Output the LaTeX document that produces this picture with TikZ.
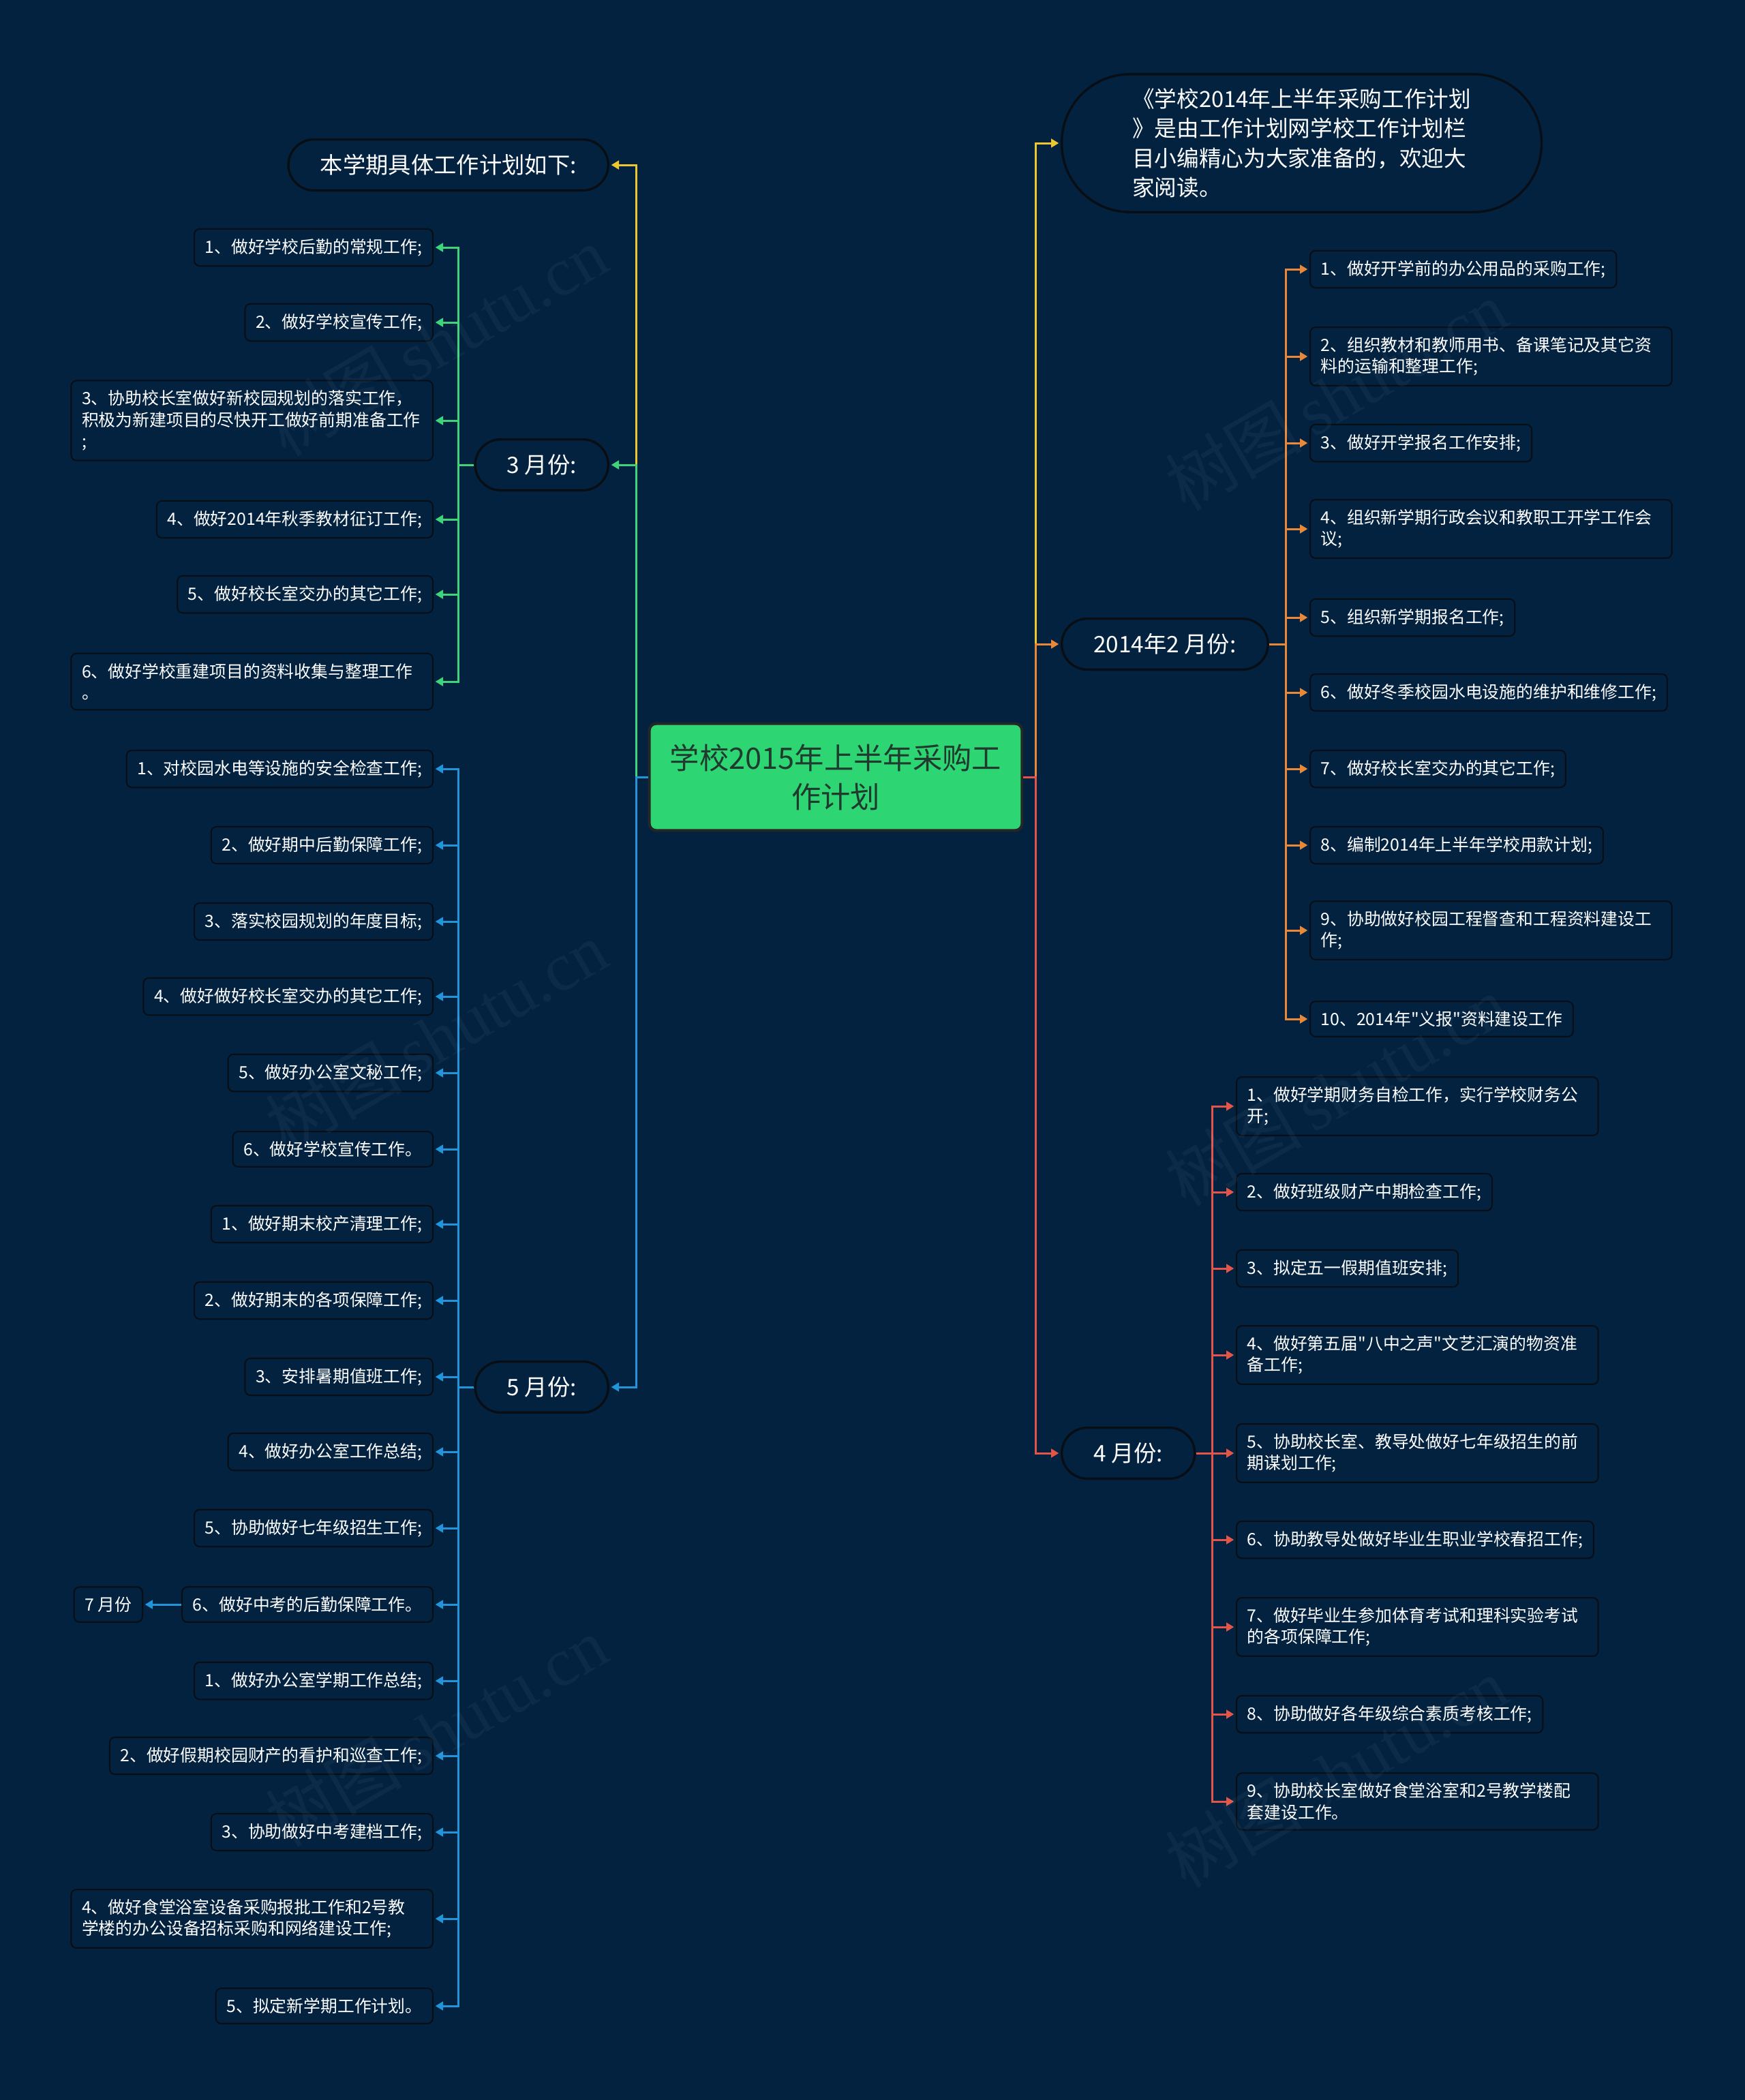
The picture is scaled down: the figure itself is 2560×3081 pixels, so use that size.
\documentclass[tikz,border=0pt]{standalone}
\usepackage{fontspec}
\setmainfont{Noto Sans CJK SC}
\newfontfamily\qf{Noto Sans CJK SC}
\newfontfamily\wmserif{Liberation Serif}
\newcommand\dq{{\qf"}}
\usetikzlibrary{arrows.meta}
\definecolor{bg}{RGB}{2,34,64}
\definecolor{edge}{RGB}{8,14,20}
\definecolor{cyel}{RGB}{238,198,46}
\definecolor{cora}{RGB}{234,136,56}
\definecolor{cred}{RGB}{228,84,72}
\definecolor{cgrn}{RGB}{64,212,122}
\definecolor{cblu}{RGB}{34,148,218}
\definecolor{rootfill}{RGB}{46,213,115}
\definecolor{roottext}{RGB}{32,58,46}
\tikzset{
  leaf/.style={draw=edge, line width=0.6pt, fill=bg, rounded corners=2.4pt, text=white,
    font=\fontsize{7.45}{9.4}\selectfont, inner xsep=4.7pt, inner ysep=4.3pt, align=left},
  leafw/.style={leaf, text width=149.8pt},
  mid/.style={draw=edge, line width=1pt, fill=bg, rounded corners=11.2pt, text=white,
    font=\fontsize{10}{13}\selectfont, minimum height=22.4pt, inner xsep=14pt},
  intro/.style={draw=edge, line width=1pt, fill=bg, rounded corners=30pt, text=white,
    font=\fontsize{9.8}{13}\selectfont, align=left, inner xsep=31pt, minimum height=60.7pt},
  rootbox/.style={draw=black!85, line width=1.2pt, fill=rootfill, rounded corners=3pt, text=roottext,
    font=\fontsize{13}{17}\selectfont, align=center, minimum width=164pt, minimum height=47pt},
  conn/.style={line width=0.9pt, -{Triangle[length=3.4pt,width=3.8pt]}, shorten >=0.8pt},
  wm/.style={text=white, opacity=0.045, rotate=30, font=\fontsize{30}{30}\selectfont}
}
\begin{document}
\begin{tikzpicture}[x=0.3pt,y=-0.3pt]
\fill[bg] (0,0) rectangle (2560,3081);
\useasboundingbox (0,0) rectangle (2560,3081);

% trunk coordinates
\coordinate (LT) at (933,0);
\coordinate (RT) at (1519,0);
\coordinate (GT) at (672,0);
\coordinate (BT) at (672,0);
\coordinate (OT) at (1886,0);
\coordinate (ET) at (1778,0);

% root
\node[rootbox] (root) at (1226,1140) {学校2015年上半年采购工\\作计划};

% level 1
\node[intro, anchor=west] (intro) at (1556,210) {《学校2014年上半年采购工作计划\\》是由工作计划网学校工作计划栏\\目小编精心为大家准备的，欢迎大\\家阅读。};
\node[mid, anchor=west] (feb) at (1556,945) {2014年2 月份:};
\node[mid, anchor=west] (apr) at (1556,2132) {4 月份:};
\node[mid, anchor=east] (plan) at (894,242) {本学期具体工作计划如下:};
\node[mid, anchor=east] (mar) at (894,682) {3 月份:};
\node[mid, anchor=east] (may) at (894,2035) {5 月份:};

% orange leaves
\node[leaf, anchor=west] (o1) at (1921,395) {1、做好开学前的办公用品的采购工作;};
\node[leafw, anchor=west] (o2) at (1921,523) {2、组织教材和教师用书、备课笔记及其它资\\料的运输和整理工作;};
\node[leaf, anchor=west] (o3) at (1921,650) {3、做好开学报名工作安排;};
\node[leafw, anchor=west] (o4) at (1921,776) {4、组织新学期行政会议和教职工开学工作会\\议;};
\node[leaf, anchor=west] (o5) at (1921,906) {5、组织新学期报名工作;};
\node[leaf, anchor=west] (o6) at (1921,1016) {6、做好冬季校园水电设施的维护和维修工作;};
\node[leaf, anchor=west] (o7) at (1921,1128) {7、做好校长室交办的其它工作;};
\node[leaf, anchor=west] (o8) at (1921,1240) {8、编制2014年上半年学校用款计划;};
\node[leafw, anchor=west] (o9) at (1921,1365) {9、协助做好校园工程督查和工程资料建设工\\作;};
\node[leaf, anchor=west] (o10) at (1921,1495) {10、2014年\dq 义报\dq 资料建设工作};

% red leaves
\node[leafw, anchor=west] (r1) at (1813,1623) {1、做好学期财务自检工作，实行学校财务公\\开;};
\node[leaf, anchor=west] (r2) at (1813,1749) {2、做好班级财产中期检查工作;};
\node[leaf, anchor=west] (r3) at (1813,1861) {3、拟定五一假期值班安排;};
\node[leafw, anchor=west] (r4) at (1813,1988) {4、做好第五届\dq 八中之声\dq 文艺汇演的物资准\\备工作;};
\node[leafw, anchor=west] (r5) at (1813,2132) {5、协助校长室、教导处做好七年级招生的前\\期谋划工作;};
\node[leaf, anchor=west] (r6) at (1813,2259) {6、协助教导处做好毕业生职业学校春招工作;};
\node[leafw, anchor=west] (r7) at (1813,2387) {7、做好毕业生参加体育考试和理科实验考试\\的各项保障工作;};
\node[leaf, anchor=west] (r8) at (1813,2515) {8、协助做好各年级综合素质考核工作;};
\node[leafw, anchor=west] (r9) at (1813,2643) {9、协助校长室做好食堂浴室和2号教学楼配\\套建设工作。};

% green leaves
\node[leaf, anchor=east] (g1) at (636,363) {1、做好学校后勤的常规工作;};
\node[leaf, anchor=east] (g2) at (636,473) {2、做好学校宣传工作;};
\node[leafw, anchor=east] (g3) at (636,617) {3、协助校长室做好新校园规划的落实工作，\\积极为新建项目的尽快开工做好前期准备工作\\;};
\node[leaf, anchor=east] (g4) at (636,762) {4、做好2014年秋季教材征订工作;};
\node[leaf, anchor=east] (g5) at (636,872) {5、做好校长室交办的其它工作;};
\node[leafw, anchor=east] (g6) at (636,1000) {6、做好学校重建项目的资料收集与整理工作\\。};

% blue leaves
\node[leaf, anchor=east] (b1) at (636,1128) {1、对校园水电等设施的安全检查工作;};
\node[leaf, anchor=east] (b2) at (636,1240) {2、做好期中后勤保障工作;};
\node[leaf, anchor=east] (b3) at (636,1352) {3、落实校园规划的年度目标;};
\node[leaf, anchor=east] (b4) at (636,1462) {4、做好做好校长室交办的其它工作;};
\node[leaf, anchor=east] (b5) at (636,1574) {5、做好办公室文秘工作;};
\node[leaf, anchor=east] (b6) at (636,1686) {6、做好学校宣传工作。};
\node[leaf, anchor=east] (b7) at (636,1796) {1、做好期末校产清理工作;};
\node[leaf, anchor=east] (b8) at (636,1908) {2、做好期末的各项保障工作;};
\node[leaf, anchor=east] (b9) at (636,2020) {3、安排暑期值班工作;};
\node[leaf, anchor=east] (b10) at (636,2130) {4、做好办公室工作总结;};
\node[leaf, anchor=east] (b11) at (636,2242) {5、协助做好七年级招生工作;};
\node[leaf, anchor=east] (b12) at (636,2354) {6、做好中考的后勤保障工作。};
\node[leaf, anchor=east] (b13) at (636,2466) {1、做好办公室学期工作总结;};
\node[leaf, anchor=east] (b14) at (636,2576) {2、做好假期校园财产的看护和巡查工作;};
\node[leaf, anchor=east] (b15) at (636,2688) {3、协助做好中考建档工作;};
\node[leafw, anchor=east] (b16) at (636,2815) {4、做好食堂浴室设备采购报批工作和2号教\\学楼的办公设备招标采购和网络建设工作;};
\node[leaf, anchor=east] (b17) at (636,2943) {5、拟定新学期工作计划。};
\node[leaf, anchor=east] (jul) at (210,2354) {7 月份};

% main connectors, right
\draw[conn, cyel] (root.east) -- (root.east -| RT) |- (intro.west);
\draw[conn, cora] (root.east) -- (root.east -| RT) |- (feb.west);
\draw[conn, cred] (root.east) -- (root.east -| RT) |- (apr.west);
% main connectors, left
\draw[conn, cyel] (root.west) -- (root.west -| LT) |- (plan.east);
\draw[conn, cgrn] (root.west) -- (root.west -| LT) |- (mar.east);
\draw[conn, cblu] (root.west) -- (root.west -| LT) |- (may.east);

% orange
\foreach \n in {o1,o2,o3,o4,o5,o6,o7,o8,o9,o10}
  \draw[conn, cora] (feb.east) -- (feb.east -| OT) |- (\n.west);
% red
\foreach \n in {r1,r2,r3,r4,r5,r6,r7,r8,r9}
  \draw[conn, cred] (apr.east) -- (apr.east -| ET) |- (\n.west);
% green
\foreach \n in {g1,g2,g3,g4,g5,g6}
  \draw[conn, cgrn] (mar.west) -- (mar.west -| GT) |- (\n.east);
% blue
\foreach \n in {b1,b2,b3,b4,b5,b6,b7,b8,b9,b10,b11,b12,b13,b14,b15,b16,b17}
  \draw[conn, cblu] (may.west) -- (may.west -| BT) |- (\n.east);
\draw[conn, cblu] (b12.west) -- (jul.east);

% watermarks
\node[wm] (wm1) at (640,500) {树图\,{\wmserif shutu.cn}};
\node[wm] (wm2) at (640,1520) {树图\,{\wmserif shutu.cn}};
\node[wm] (wm3) at (640,2540) {树图\,{\wmserif shutu.cn}};
\node[wm] (wm4) at (1960,580) {树图\,{\wmserif shutu.cn}};
\node[wm] (wm5) at (1960,1600) {树图\,{\wmserif shutu.cn}};
\node[wm] (wm6) at (1960,2600) {树图\,{\wmserif shutu.cn}};
\end{tikzpicture}
\end{document}
